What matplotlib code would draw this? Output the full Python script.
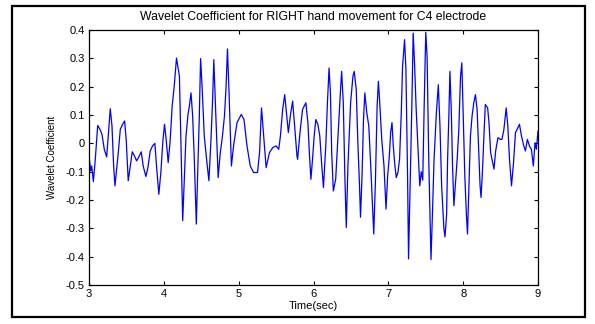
import matplotlib
matplotlib.use('Agg')
import matplotlib.pyplot as plt
from matplotlib.patches import Rectangle

plt.rcParams['font.family'] = ['Liberation Sans', 'DejaVu Sans']

# time (sec) and wavelet coefficient
t = [3.000, 3.022, 3.036, 3.058, 3.084, 3.116, 3.147, 3.173, 3.204, 3.236,
     3.253, 3.284, 3.307, 3.329, 3.347, 3.369, 3.391, 3.418, 3.449, 3.476,
     3.498, 3.524, 3.551, 3.578, 3.609, 3.636, 3.662, 3.698, 3.724, 3.760,
     3.787, 3.818, 3.849, 3.880, 3.902, 3.933, 3.960, 3.987, 4.009, 4.031,
     4.058, 4.084, 4.111, 4.138, 4.169, 4.208, 4.226, 4.252, 4.270, 4.296,
     4.323, 4.341, 4.363, 4.385, 4.407, 4.434, 4.451, 4.473, 4.491, 4.513,
     4.540, 4.571, 4.602, 4.628, 4.650, 4.668, 4.690, 4.717, 4.726, 4.752,
     4.783, 4.810, 4.832, 4.850, 4.867, 4.885, 4.903, 4.934, 4.978, 5.035,
     5.071, 5.111, 5.155, 5.199, 5.252, 5.279, 5.305, 5.327, 5.367, 5.411,
     5.456, 5.500, 5.535, 5.558, 5.588, 5.615, 5.642, 5.664, 5.690, 5.721,
     5.748, 5.779, 5.788, 5.819, 5.854, 5.898, 5.925, 5.947, 5.965, 5.987,
     6.009, 6.031, 6.058, 6.084, 6.111, 6.133, 6.164, 6.186, 6.208, 6.226,
     6.243, 6.265, 6.296, 6.327, 6.354, 6.376, 6.398, 6.420, 6.438, 6.460,
     6.496, 6.527, 6.544, 6.571, 6.593, 6.615, 6.628, 6.650, 6.668, 6.686,
     6.712, 6.739, 6.765, 6.792, 6.805, 6.827, 6.850, 6.867, 6.885, 6.912,
     6.942, 6.969, 6.991, 7.013, 7.031, 7.049, 7.066, 7.088, 7.106, 7.128,
     7.150, 7.173, 7.190, 7.217, 7.235, 7.257, 7.270, 7.292, 7.314, 7.332,
     7.350, 7.372, 7.403, 7.420, 7.440, 7.460, 7.478, 7.500, 7.518, 7.540,
     7.570, 7.590, 7.611, 7.642, 7.668, 7.690, 7.712, 7.743, 7.757, 7.779,
     7.792, 7.810, 7.823, 7.841, 7.858, 7.876, 7.898, 7.920, 7.942, 7.965,
     7.982, 8.000, 8.022, 8.044, 8.058, 8.075, 8.097, 8.119, 8.142, 8.164,
     8.186, 8.208, 8.226, 8.239, 8.257, 8.279, 8.296, 8.327, 8.345, 8.367,
     8.394, 8.412, 8.434, 8.465, 8.496, 8.518, 8.544, 8.575, 8.597, 8.619,
     8.646, 8.673, 8.699, 8.721, 8.752, 8.779, 8.810, 8.832, 8.858, 8.885,
     8.912, 8.938, 8.960, 8.978, 9.000]

coef = [-0.045, -0.097, -0.080, -0.135, -0.056, 0.063, 0.049, 0.032, -0.021, -0.048,
        0.014, 0.122, 0.061, -0.080, -0.150, -0.091, -0.033, 0.049, 0.067, 0.079,
        0.008, -0.132, -0.080, -0.030, -0.045, -0.062, -0.050, -0.030, -0.080, -0.117,
        -0.086, -0.027, -0.009, 0.000, -0.080, -0.180, -0.103, 0.008, 0.067, 0.014,
        -0.068, 0.008, 0.131, 0.200, 0.301, 0.237, 0.026, -0.273, -0.150, 0.026,
        0.102, 0.131, 0.178, 0.096, -0.056, -0.285, -0.115, 0.084, 0.299, 0.190,
        0.026, -0.056, -0.132, 0.002, 0.143, 0.295, 0.131, -0.056, -0.121, -0.039,
        0.026, 0.096, 0.202, 0.333, 0.213, 0.061, -0.080, -0.004, 0.073, 0.102,
        0.084, -0.009, -0.080, -0.103, -0.103, -0.033, 0.125, 0.049, -0.086, -0.033,
        -0.015, -0.009, -0.021, 0.026, 0.120, 0.172, 0.096, 0.038, 0.096, 0.149,
        0.061, -0.045, -0.056, 0.038, 0.120, 0.143, 0.073, -0.045, -0.127, -0.056,
        0.026, 0.084, 0.067, 0.026, -0.080, -0.156, -0.009, 0.143, 0.266, 0.178,
        -0.033, -0.168, -0.127, 0.026, 0.155, 0.254, 0.143, -0.127, -0.297, -0.080,
        0.143, 0.237, 0.254, 0.190, 0.000, -0.150, -0.261, -0.103, 0.084, 0.178,
        0.108, 0.061, -0.080, -0.244, -0.320, -0.138, 0.131, 0.219, 0.143, 0.014,
        -0.080, -0.232, -0.115, -0.045, 0.038, 0.073, -0.009, -0.080, -0.121, -0.103,
        -0.056, 0.108, 0.272, 0.366, 0.260, -0.115, -0.408, -0.138, 0.131, 0.389,
        0.284, 0.120, -0.056, -0.150, -0.100, -0.130, 0.120, 0.392, 0.307, -0.056,
        -0.410, -0.244, -0.056, 0.108, 0.207, 0.061, -0.150, -0.302, -0.330, -0.250,
        -0.056, 0.108, 0.254, 0.120, -0.080, -0.220, -0.138, -0.056, 0.049, 0.237,
        0.284, 0.108, -0.115, -0.256, -0.320, -0.173, 0.026, 0.096, 0.143, 0.172,
        0.120, -0.033, -0.150, -0.191, -0.103, 0.038, 0.137, 0.125, 0.073, -0.033,
        -0.068, -0.091, -0.027, 0.020, 0.014, 0.014, 0.049, 0.125, 0.061, -0.056,
        -0.150, -0.068, 0.038, 0.049, 0.067, 0.026, -0.009, -0.027, 0.014, -0.009,
        -0.021, -0.080, 0.002, -0.021, 0.043]

xticks = [3, 4, 5, 6, 7, 8, 9]
yticks = [-0.5, -0.4, -0.3, -0.2, -0.1, 0, 0.1, 0.2, 0.3, 0.4]
yticklabels = ['-0.5', '-0.4', '-0.3', '-0.2', '-0.1', '0', '0.1', '0.2', '0.3', '0.4']

fig = plt.figure(figsize=(5.95, 3.24), dpi=100)
ax = fig.add_axes([0.1496, 0.1204, 0.7546, 0.787])

ax.plot(t, coef, color='#0000ff', linewidth=0.9)

ax.set_xlim(3, 9)
ax.set_ylim(-0.5, 0.4)
ax.set_xticks(xticks)
ax.set_yticks(yticks)
ax.set_yticklabels(yticklabels)
ax.tick_params(direction='in', top=True, right=True, length=3, width=0.8,
               labelsize=8, colors='black', pad=3)
for s in ax.spines.values():
    s.set_linewidth(0.9)

ax.set_title('Wavelet Coefficient for RIGHT hand movement for C4 electrode',
             fontsize=8.8, pad=7)
ax.set_xlabel('Time(sec)', fontsize=8, labelpad=1)
ax.set_ylabel('Wavelet Coefficient', fontsize=7, labelpad=6)

# outer frame around the whole figure
fig.add_artist(Rectangle((0.021, 0.021), 0.962, 0.960, transform=fig.transFigure,
                         fill=False, edgecolor='black', linewidth=1.6))

fig.savefig('out.png', dpi=100)
